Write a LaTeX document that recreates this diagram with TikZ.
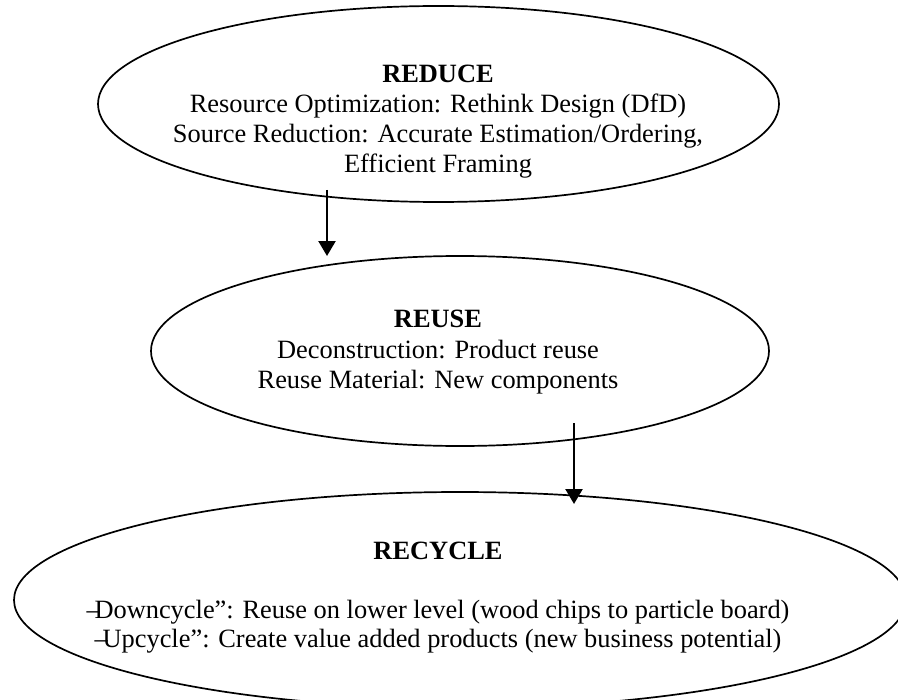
\documentclass[tikz,border=0pt]{standalone}
\usepackage{fontspec}
\setmainfont{Liberation Serif}
\usetikzlibrary{shapes.geometric,arrows.meta}
\newcommand{\strk}[1]{\rlap{–}\kern0.3em #1}
\begin{document}
\begin{tikzpicture}[x=0.5pt,y=-0.5pt,
  ell/.style={draw, ellipse, line width=0.85pt, inner sep=0pt, outer sep=0pt},
  txt/.style={anchor=base, inner sep=0pt, font=\fontsize{13.2pt}{15pt}\selectfont},
  ttl/.style={anchor=base, inner sep=0pt, font=\fontsize{13.2pt}{15pt}\selectfont\bfseries},
  arr/.style={line width=1.2pt, -{Triangle[width=8.5pt,length=7.5pt]}}]
\useasboundingbox (0,0) rectangle (898,700);
\clip (0,0) rectangle (898,700);
% ellipses
\node[ell, minimum width=340.5pt, minimum height=98pt] (reduce) at (438.5,104) {};
\node[ell, minimum width=309pt, minimum height=95pt] (reuse) at (460,351) {};
\node[ell, minimum width=446pt, minimum height=108pt] (recycle) at (460,600) {};
% REDUCE text
\node[ttl] (reduceT) at (438,83) {REDUCE};
\node[txt] (reduceA) at (438,113) {Resource Optimization: Rethink Design (DfD)};
\node[txt] (reduceB) at (438,143) {Source Reduction: Accurate Estimation/Ordering,};
\node[txt] (reduceC) at (438,173) {Efficient Framing};
% REUSE text
\node[ttl] (reuseT) at (438,327) {REUSE};
\node[txt] (reuseA) at (438,358) {Deconstruction: Product reuse};
\node[txt] (reuseB) at (438,388) {Reuse Material: New components};
% RECYCLE text
\node[ttl] (recycleT) at (438,559) {RECYCLE};
\node[txt] (recycleA) at (438,618) {\strk{D}owncycle”: Reuse on lower level (wood chips to particle board)};
\node[txt] (recycleB) at (438,647) {\strk{U}pcycle”: Create value added products (new business potential)};
% connectors
\coordinate (a1s) at (327,190);
\coordinate (a1e) at (327,256);
\coordinate (a2s) at (574,423);
\coordinate (a2e) at (574,504);
\draw[arr] (a1s) -- (a1e);
\draw[arr] (a2s) -- (a2e);
\end{tikzpicture}
\end{document}
